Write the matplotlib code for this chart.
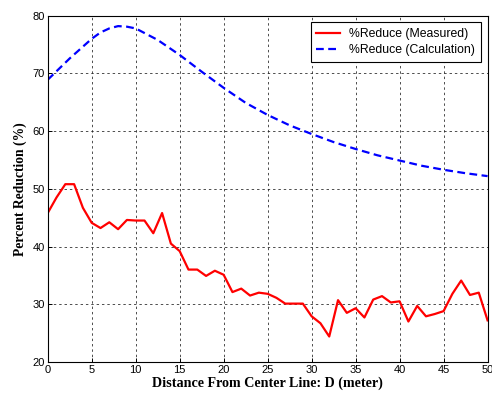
import matplotlib.pyplot as plt

# measured reduction, 1 m spacing
dist_measured = list(range(0, 51))
reduce_measured = [45.8, 48.5, 50.8, 50.8, 46.7, 44.1, 43.2, 44.2, 43.0, 44.6,
                   44.5, 44.5, 42.3, 45.8, 40.5, 39.2, 36.0, 36.0, 34.9, 35.8,
                   35.1, 32.1, 32.7, 31.5, 32.0, 31.8, 31.1, 30.1, 30.1, 30.1,
                   27.9, 26.7, 24.4, 30.7, 28.5, 29.3, 27.7, 30.8, 31.4, 30.3,
                   30.5, 27.0, 29.7, 27.9, 28.3, 28.8, 31.8, 34.1, 31.6, 32.0,
                   27.2]

# calculated reduction
dist_calc = [0, 2.5, 5, 6, 7, 8, 9, 10, 12.5, 15, 17.5, 20, 22.5, 25, 27.5,
             30, 32.5, 35, 37.5, 40, 42.5, 45, 47.5, 50]
reduce_calc = [68.9, 72.6, 76.0, 77.1, 77.8, 78.2, 78.1, 77.8, 75.8, 73.2,
               70.3, 67.5, 64.9, 62.8, 61.0, 59.5, 58.1, 56.9, 55.8, 54.9,
               54.0, 53.3, 52.7, 52.2]

x_ticks = list(range(0, 51, 5))
y_ticks = list(range(20, 81, 10))

fig = plt.figure(figsize=(4.92, 4.03), dpi=100, facecolor='white')
ax = fig.add_axes([0.097, 0.102, 0.894, 0.859])

ax.plot(dist_measured, reduce_measured, color='#ff0000', lw=1.6,
        label='%Reduce (Measured)')
ax.plot(dist_calc, reduce_calc, color='#0000ff', lw=1.6, ls=(0, (3.5, 2)),
        label='%Reduce (Calculation)')

ax.set_xlim(0, 50)
ax.set_ylim(20, 80)
ax.set_xticks(x_ticks)
ax.set_yticks(y_ticks)
ax.grid(True, color='#202020', ls=(0, (2.5, 3)), lw=0.7, alpha=0.8)
ax.tick_params(direction='in', length=3, width=0.7, labelsize=8, pad=2)
for lab in ax.get_xticklabels() + ax.get_yticklabels():
    lab.set_family('Liberation Sans')
for sp in ax.spines.values():
    sp.set_linewidth(0.8)

ax.set_xlabel('Distance From Center Line: D (meter)', family='Liberation Serif',
              fontweight='bold', fontsize=10.2, labelpad=1)
ax.set_ylabel('Percent Reduction (%)', family='Liberation Serif',
              fontweight='bold', fontsize=9.8, labelpad=4)

leg = ax.legend(loc='upper right', prop={'family': 'Liberation Sans', 'size': 8.8},
                fancybox=False, framealpha=1, edgecolor='black',
                handlelength=1.9, handletextpad=0.8, borderaxespad=0.55,
                borderpad=0.45, labelspacing=0.35)
leg.get_frame().set_linewidth(0.8)

fig.savefig('out.png', dpi=100, facecolor='white')
plt.close(fig)
